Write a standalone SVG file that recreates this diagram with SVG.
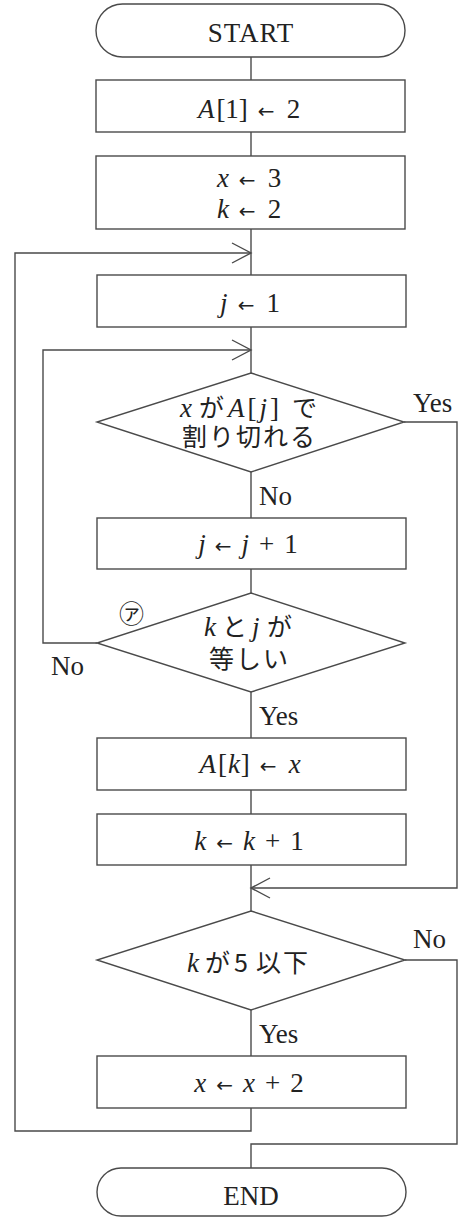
<svg xmlns="http://www.w3.org/2000/svg" width="468" height="1218" viewBox="0 0 468 1218">
<style>
.ln{fill:none;stroke:#4a4a4a;stroke-width:1.4}
.sh{fill:#fff;stroke:#4a4a4a;stroke-width:1.4}
.t{font-family:"Liberation Serif","Times New Roman",serif;font-size:27px;fill:#222;text-anchor:middle}
.l{font-family:"Liberation Serif","Times New Roman",serif;font-size:27px;fill:#222}
.i{font-style:italic}
.ar{font-family:"DejaVu Sans",sans-serif;font-size:20px;font-style:normal}
.jp{font-family:"Noto Sans CJK JP",sans-serif;font-size:25px;fill:#222}
</style>
<defs>
<marker id="chev" viewBox="-21 -11 23 22" refX="0" refY="0" markerWidth="23" markerHeight="22" markerUnits="userSpaceOnUse" orient="auto">
<path d="M-19,-10 L0,0 L-19,10" fill="none" stroke="#4a4a4a" stroke-width="1.4"/>
</marker>
</defs>
<g id="connectors">
<path class="ln" d="M251,57 V80"/>
<path class="ln" d="M251,132 V156"/>
<path class="ln" d="M251,229 V275"/>
<path class="ln" d="M251,327 V373"/>
<path class="ln" d="M251,472 V518"/>
<path class="ln" d="M251,569 V593"/>
<path class="ln" d="M251,692 V738"/>
<path class="ln" d="M251,790 V814"/>
<path class="ln" d="M251,865 V911"/>
<path class="ln" d="M251,1010 V1056"/>
<path class="ln" d="M251,1108 V1131 H15 V253 H251" marker-end="url(#chev)"/>
<path class="ln" d="M97,643 H43 V350 H251" marker-end="url(#chev)"/>
<path class="ln" d="M404,422 H457 V888 H251" marker-end="url(#chev)"/>
<path class="ln" d="M405,960 H457 V1144 H251 V1168"/>
<text class="l" x="413" y="412">Yes</text>
<text class="l" x="259" y="505">No</text>
<text class="l" x="51" y="675">No</text>
<text class="l" x="259" y="725">Yes</text>
<text class="l" x="413" y="948">No</text>
<text class="l" x="259" y="1043">Yes</text>
</g>
<g id="start">
<rect class="sh" x="96" y="4" width="309" height="53" rx="26.5"/>
<text class="t" x="251" y="42" letter-spacing="1">START</text>
</g>
<g id="init-a">
<rect class="sh" x="96" y="80" width="309" height="52"/>
<text class="t" x="249" y="118"><tspan class="i">A</tspan><tspan dx="2">[1]</tspan><tspan class="ar" dx="10">←</tspan><tspan dx="12">2</tspan></text>
</g>
<g id="init-xk">
<rect class="sh" x="96" y="156" width="309" height="73"/>
<text class="t" x="249" y="187"><tspan class="i">x</tspan><tspan class="ar" dx="10">←</tspan><tspan dx="12">3</tspan></text>
<text class="t" x="249" y="218"><tspan class="i">k</tspan><tspan class="ar" dx="10">←</tspan><tspan dx="12">2</tspan></text>
</g>
<g id="init-j">
<rect class="sh" x="97" y="275" width="309" height="52"/>
<text class="t" x="250" y="312"><tspan class="i">j</tspan><tspan class="ar" dx="10">←</tspan><tspan dx="12">1</tspan></text>
</g>
<g id="cond-divisible">
<polygon class="sh" points="251,373 404,422 251,472 97,422"/>
<text class="l i" x="180" y="417">x</text>
<text class="jp" x="199" y="417">が</text>
<text class="l" x="228" y="417" letter-spacing="3"><tspan class="i">A</tspan>[<tspan class="i">j</tspan>]</text>
<text class="jp" x="292" y="417">で</text>
<text class="jp" x="182" y="446" letter-spacing="2">割り切れる</text>
</g>
<g id="inc-j">
<rect class="sh" x="97" y="518" width="309" height="51"/>
<text class="t" x="248" y="553"><tspan class="i">j</tspan><tspan class="ar" dx="9">←</tspan><tspan class="i" dx="10">j</tspan><tspan dx="10">+</tspan><tspan dx="10">1</tspan></text>
</g>
<g id="cond-equal">
<polygon class="sh" points="251,593 405,643 251,692 97,643"/>
<text class="l i" x="204" y="636">k</text>
<text class="jp" x="222" y="636">と</text>
<text class="l i" x="252" y="636">j</text>
<text class="jp" x="267" y="636">が</text>
<text class="jp" x="209" y="668" letter-spacing="2">等しい</text>
<text class="jp" x="119" y="623" font-size="24">㋐</text>
</g>
<g id="set-ak">
<rect class="sh" x="97" y="738" width="309" height="52"/>
<text class="t" x="250" y="773"><tspan class="i">A</tspan><tspan dx="2">[</tspan><tspan class="i" dx="1">k</tspan><tspan dx="1">]</tspan><tspan class="ar" dx="10">←</tspan><tspan class="i" dx="12">x</tspan></text>
</g>
<g id="inc-k">
<rect class="sh" x="97" y="814" width="309" height="51"/>
<text class="t" x="249" y="850"><tspan class="i">k</tspan><tspan class="ar" dx="10">←</tspan><tspan class="i" dx="10">k</tspan><tspan dx="10">+</tspan><tspan dx="10">1</tspan></text>
</g>
<g id="cond-k5">
<polygon class="sh" points="251,911 405,960 251,1010 97,960"/>
<text class="l i" x="187" y="972">k</text>
<text class="jp" x="205" y="972">が</text>
<text class="jp" x="234" y="972">5</text>
<text class="jp" x="256" y="972" letter-spacing="2">以下</text>
</g>
<g id="inc-x">
<rect class="sh" x="97" y="1056" width="309" height="52"/>
<text class="t" x="249" y="1092"><tspan class="i">x</tspan><tspan class="ar" dx="10">←</tspan><tspan class="i" dx="10">x</tspan><tspan dx="10">+</tspan><tspan dx="10">2</tspan></text>
</g>
<g id="end">
<rect class="sh" x="97" y="1168" width="309" height="48" rx="24"/>
<text class="t" x="251" y="1205">END</text>
</g>
</svg>
